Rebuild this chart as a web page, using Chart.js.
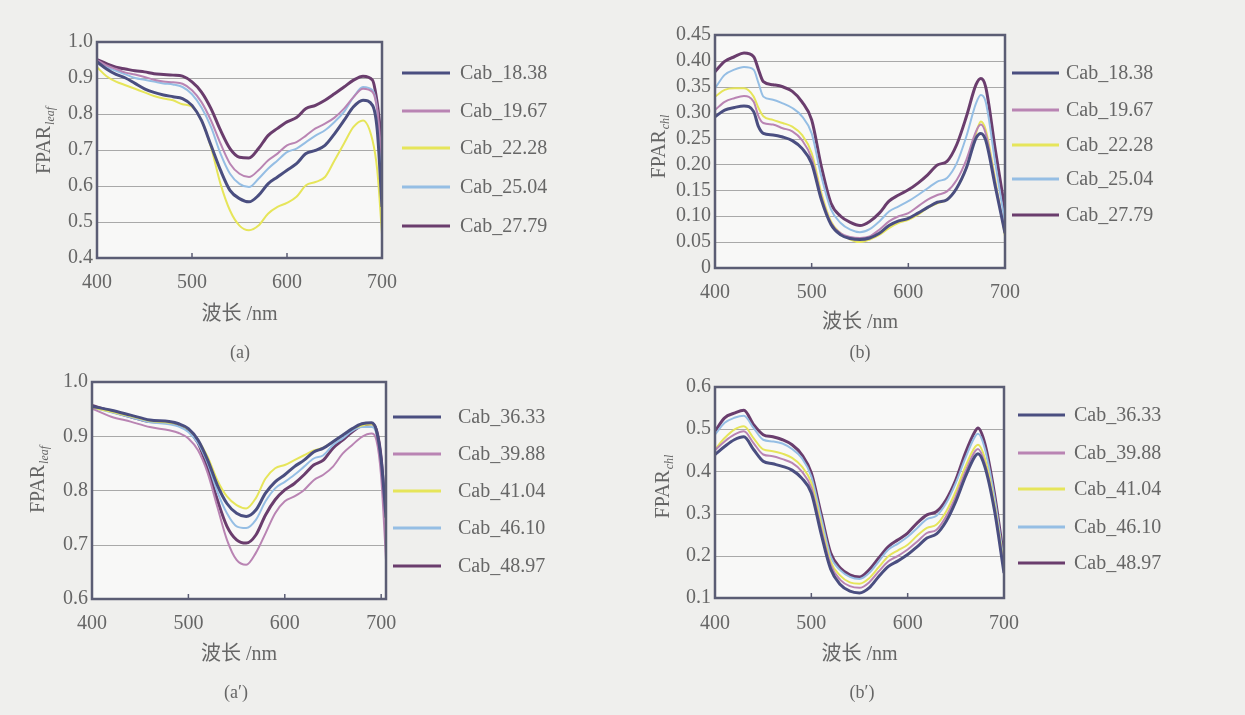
<!DOCTYPE html>
<html>
<head>
<meta charset="utf-8">
<script src="https://cdn.jsdelivr.net/npm/chart.js@4.4.1/dist/chart.umd.min.js"></script>
<style>
  body { margin: 0; width: 1245px; height: 715px; overflow: hidden; position: relative;
         background: #efefed; font-family: "Liberation Serif", serif; }
  canvas { position: absolute; }
  .tag { position: absolute; font-size: 18px; color: #666; transform: translateX(-50%); }
</style>
</head>
<body>
<canvas id="panelA" width="600" height="340" style="left:0;top:0"></canvas>
<canvas id="panelB" width="645" height="340" style="left:600px;top:0"></canvas>
<canvas id="panelA2" width="600" height="320" style="left:0;top:360px"></canvas>
<canvas id="panelB2" width="645" height="320" style="left:600px;top:360px"></canvas>
<div class="tag" style="left:240px;top:342px">(a)</div>
<div class="tag" style="left:860px;top:342px">(b)</div>
<div class="tag" style="left:236px;top:682px">(a′)</div>
<div class="tag" style="left:862px;top:682px">(b′)</div>
<script>
// ---- data ----
const namesLow = ['Cab_18.38', 'Cab_19.67', 'Cab_22.28', 'Cab_25.04', 'Cab_27.79'];
const namesHigh = ['Cab_36.33', 'Cab_39.88', 'Cab_41.04', 'Cab_46.10', 'Cab_48.97'];

const xTicks = [400, 500, 600, 700];
const yTicksA = [0.4, 0.5, 0.6, 0.7, 0.8, 0.9, 1.0];
const yTicksB = [0, 0.05, 0.10, 0.15, 0.20, 0.25, 0.30, 0.35, 0.40, 0.45];
const yTicksA2 = [0.6, 0.7, 0.8, 0.9, 1.0];
const yTicksB2 = [0.1, 0.2, 0.3, 0.4, 0.5, 0.6];

// (a) FPAR_leaf, low chlorophyll
const wlA = [400,410,420,430,440,450,460,470,480,490,500,510,520,530,540,550,560,570,580,590,600,610,620,630,640,650,660,670,680,690,695,700];
const leafA_1838 = [0.945,0.925,0.91,0.9,0.885,0.87,0.86,0.853,0.848,0.843,0.824,0.782,0.713,0.644,0.588,0.565,0.556,0.574,0.606,0.625,0.644,0.662,0.69,0.699,0.713,0.745,0.782,0.82,0.838,0.824,0.755,0.542];
const leafA_1967 = [0.95,0.935,0.925,0.915,0.91,0.903,0.895,0.89,0.888,0.884,0.866,0.833,0.782,0.718,0.662,0.634,0.625,0.644,0.671,0.69,0.713,0.722,0.74,0.76,0.773,0.79,0.815,0.847,0.87,0.861,0.81,0.67];
const leafA_2228 = [0.93,0.905,0.89,0.88,0.87,0.86,0.85,0.843,0.838,0.827,0.82,0.782,0.708,0.606,0.532,0.49,0.477,0.49,0.523,0.542,0.553,0.57,0.602,0.611,0.625,0.671,0.718,0.764,0.782,0.727,0.644,0.467];
const leafA_2504 = [0.945,0.93,0.92,0.91,0.9,0.895,0.89,0.885,0.882,0.875,0.855,0.818,0.764,0.69,0.634,0.606,0.597,0.62,0.648,0.671,0.694,0.704,0.722,0.74,0.755,0.778,0.806,0.847,0.875,0.866,0.81,0.6];
const leafA_2779 = [0.951,0.94,0.93,0.925,0.92,0.917,0.912,0.91,0.908,0.905,0.889,0.861,0.815,0.755,0.704,0.68,0.678,0.704,0.74,0.76,0.778,0.79,0.815,0.824,0.838,0.856,0.875,0.894,0.905,0.894,0.83,0.713];

// (b) FPAR_chl, low chlorophyll
const wlB = [400,410,420,430,440,445,450,460,470,480,490,500,510,520,530,540,550,560,570,580,590,600,610,620,630,640,650,660,670,675,680,690,700];
const chlB_1838 = [0.292,0.305,0.31,0.313,0.302,0.273,0.26,0.257,0.253,0.246,0.231,0.202,0.132,0.084,0.064,0.057,0.055,0.058,0.067,0.082,0.091,0.096,0.106,0.117,0.127,0.132,0.154,0.193,0.251,0.26,0.247,0.157,0.067];
const chlB_1967 = [0.305,0.321,0.328,0.332,0.321,0.293,0.28,0.277,0.27,0.264,0.247,0.212,0.138,0.087,0.067,0.06,0.058,0.061,0.074,0.09,0.1,0.106,0.119,0.132,0.141,0.148,0.17,0.209,0.264,0.277,0.26,0.164,0.067];
const chlB_2228 = [0.331,0.344,0.347,0.347,0.331,0.309,0.293,0.286,0.28,0.273,0.257,0.222,0.145,0.09,0.067,0.055,0.05,0.055,0.064,0.077,0.087,0.093,0.103,0.116,0.125,0.132,0.154,0.193,0.26,0.283,0.267,0.17,0.061];
const chlB_2504 = [0.347,0.373,0.383,0.388,0.383,0.357,0.331,0.325,0.318,0.309,0.293,0.26,0.177,0.113,0.087,0.074,0.069,0.075,0.09,0.109,0.119,0.129,0.141,0.154,0.167,0.174,0.202,0.254,0.318,0.334,0.321,0.202,0.087];
const chlB_2779 = [0.379,0.399,0.408,0.415,0.408,0.383,0.36,0.354,0.35,0.341,0.321,0.286,0.196,0.125,0.1,0.088,0.082,0.09,0.106,0.129,0.141,0.151,0.164,0.18,0.199,0.206,0.238,0.292,0.354,0.366,0.35,0.228,0.112];

// (a') FPAR_leaf, high chlorophyll
const wlA2 = [400,420,440,460,480,490,500,510,520,530,540,550,560,570,580,590,600,610,620,630,640,650,660,670,680,690,695,700,705];
const leafA2_3633 = [0.955,0.948,0.939,0.93,0.927,0.923,0.914,0.893,0.856,0.81,0.776,0.758,0.752,0.764,0.795,0.816,0.829,0.844,0.856,0.871,0.878,0.89,0.902,0.914,0.923,0.925,0.911,0.856,0.75];
const leafA2_3988 = [0.951,0.936,0.927,0.917,0.911,0.906,0.896,0.874,0.832,0.77,0.709,0.672,0.663,0.685,0.721,0.758,0.78,0.789,0.801,0.819,0.829,0.844,0.868,0.884,0.899,0.905,0.893,0.825,0.672];
const leafA2_4104 = [0.953,0.945,0.937,0.928,0.925,0.922,0.913,0.893,0.862,0.819,0.789,0.773,0.767,0.786,0.822,0.841,0.847,0.856,0.865,0.874,0.879,0.89,0.902,0.914,0.92,0.922,0.91,0.85,0.74];
const leafA2_4610 = [0.953,0.944,0.935,0.926,0.922,0.918,0.908,0.887,0.85,0.798,0.758,0.734,0.731,0.746,0.78,0.804,0.816,0.829,0.844,0.859,0.865,0.884,0.896,0.91,0.917,0.917,0.905,0.84,0.73];
const leafA2_4897 = [0.957,0.946,0.936,0.927,0.925,0.921,0.911,0.888,0.841,0.783,0.734,0.709,0.703,0.718,0.755,0.783,0.801,0.813,0.829,0.847,0.856,0.878,0.893,0.908,0.92,0.923,0.912,0.86,0.74];

// (b') FPAR_chl, high chlorophyll
const wlB2 = [400,410,420,430,440,450,460,470,480,490,500,510,520,530,540,550,560,570,580,590,600,610,620,630,640,650,660,670,673,680,690,700];
const chlB2_3633 = [0.44,0.459,0.475,0.482,0.452,0.424,0.418,0.412,0.403,0.384,0.349,0.254,0.169,0.132,0.116,0.112,0.124,0.151,0.175,0.188,0.203,0.222,0.242,0.252,0.282,0.329,0.388,0.436,0.442,0.412,0.309,0.159];
const chlB2_3988 = [0.45,0.471,0.487,0.495,0.467,0.44,0.436,0.429,0.42,0.4,0.361,0.266,0.179,0.143,0.128,0.124,0.137,0.163,0.187,0.2,0.215,0.234,0.254,0.262,0.294,0.341,0.4,0.448,0.453,0.42,0.317,0.167];
const chlB2_4104 = [0.452,0.479,0.499,0.507,0.479,0.452,0.448,0.442,0.432,0.412,0.373,0.278,0.187,0.153,0.137,0.134,0.147,0.173,0.199,0.213,0.226,0.248,0.266,0.274,0.305,0.353,0.412,0.458,0.463,0.432,0.325,0.175];
const chlB2_4610 = [0.487,0.515,0.527,0.532,0.503,0.475,0.471,0.466,0.453,0.432,0.388,0.293,0.199,0.166,0.15,0.145,0.159,0.187,0.215,0.229,0.245,0.266,0.287,0.295,0.325,0.373,0.432,0.483,0.489,0.455,0.341,0.183];
const chlB2_4897 = [0.495,0.527,0.538,0.545,0.511,0.487,0.482,0.475,0.463,0.44,0.396,0.301,0.207,0.171,0.155,0.15,0.167,0.195,0.222,0.238,0.254,0.278,0.297,0.305,0.333,0.38,0.444,0.495,0.503,0.467,0.349,0.191];

// ---- style ----
const lineColors = ['#4a4e80', '#b984b3', '#e6e55a', '#95bee4', '#6a3d6d'];
const lineWidths = [3, 2, 2, 2, 3];
const textColor = '#666';
const serif = '"Liberation Serif", "Noto Sans CJK SC", serif';

// background of the plot area, frame and small inner ticks on the x axis
const framePlugin = {
    id: 'frame',
    beforeDatasetsDraw(chart) {
        const a = chart.chartArea, ctx = chart.ctx;
        ctx.save();
        ctx.fillStyle = 'rgba(255,255,255,0.55)';
        ctx.fillRect(a.left, a.top, a.right - a.left, a.bottom - a.top);
        // horizontal grid lines
        const y = chart.scales.y;
        ctx.strokeStyle = '#a9a9a9';
        ctx.lineWidth = 1.2;
        y.ticks.forEach(t => {
            const py = Math.round(y.getPixelForValue(t.value)) + 0.5;
            ctx.beginPath(); ctx.moveTo(a.left, py); ctx.lineTo(a.right, py); ctx.stroke();
        });
        ctx.restore();
    },
    afterDatasetsDraw(chart) {
        const a = chart.chartArea, ctx = chart.ctx, x = chart.scales.x;
        ctx.save();
        ctx.strokeStyle = '#5b5d74';
        ctx.lineWidth = 2.5;
        ctx.strokeRect(a.left, a.top, a.right - a.left, a.bottom - a.top);
        ctx.lineWidth = 1.5;
        x.ticks.forEach(t => {
            const px = x.getPixelForValue(t.value);
            if (px <= a.left + 2 || px >= a.right - 2) return;
            ctx.beginPath(); ctx.moveTo(px, a.bottom); ctx.lineTo(px, a.bottom - 5); ctx.stroke();
        });
        ctx.restore();
    },
    afterDraw(chart) {
        const o = chart.options.plugins.frame, ctx = chart.ctx;
        ctx.save();
        // y axis title with subscript
        ctx.translate(o.titleX, o.titleY);
        ctx.rotate(-Math.PI / 2);
        ctx.fillStyle = textColor;
        ctx.font = '20px ' + serif;
        const w1 = ctx.measureText('FPAR').width;
        ctx.font = 'italic 12px ' + serif;
        const w2 = ctx.measureText(o.sub).width;
        const start = -(w1 + w2) / 2;
        ctx.font = '20px ' + serif;
        ctx.fillText('FPAR', start, 7);
        ctx.font = 'italic 12px ' + serif;
        ctx.fillText(o.sub, start + w1 + 1, 11);
        ctx.restore();

        // legend
        ctx.save();
        ctx.font = '20px ' + serif;
        ctx.textBaseline = 'middle';
        chart.data.datasets.forEach((ds, i) => {
            const ry = o.legend.rows[i];
            ctx.strokeStyle = ds.borderColor;
            ctx.lineWidth = 3;
            ctx.beginPath(); ctx.moveTo(o.legend.x1, ry); ctx.lineTo(o.legend.x2, ry); ctx.stroke();
            ctx.fillStyle = textColor;
            ctx.fillText(ds.label, o.legend.tx, ry + 1);
        });
        ctx.restore();
    }
};

function makePanel(id, p) {
    // p.box = canvas in page coords, p.plot = wanted chart area in page coords
    const box = p.box, plot = p.plot;
    const datasets = p.series.map((s, i) => ({
        label: p.names[i],
        data: p.wl.map((w, j) => ({ x: w, y: s[j] })),
        borderColor: lineColors[i],
        borderWidth: lineWidths[i],
        pointRadius: 0,
        cubicInterpolationMode: 'monotone',
        fill: false
    }));
    return new Chart(document.getElementById(id), {
        type: 'line',
        data: { datasets },
        plugins: [framePlugin],
        options: {
            responsive: false,
            animation: false,
            layout: { padding: { top: plot.t - box.y, right: box.x + box.w - plot.r, left: 0, bottom: 0 } },
            plugins: {
                legend: { display: false },
                tooltip: { enabled: false },
                frame: {
                    sub: p.sub,
                    titleX: p.title[0] - box.x,
                    titleY: p.title[1] - box.y,
                    legend: {
                        x1: p.legend.x1 - box.x, x2: p.legend.x2 - box.x, tx: p.legend.tx - box.x,
                        rows: p.legend.rows.map(r => r - box.y)
                    }
                }
            },
            scales: {
                x: {
                    type: 'linear',
                    min: 400, max: p.xMax,
                    afterBuildTicks: s => { s.ticks = xTicks.map(v => ({ value: v })); },
                    afterFit: s => { s.height = box.y + box.h - plot.b; },
                    grid: { display: false, drawTicks: false },
                    border: { display: false },
                    ticks: { color: textColor, font: { family: serif, size: 20 }, padding: p.tickPad,
                             maxRotation: 0, autoSkip: false, callback: v => String(v) },
                    title: { display: true, text: '波长 /nm', color: textColor,
                             font: { family: serif, size: 20, lineHeight: 1.2 },
                             padding: { top: 0, bottom: p.titlePad } }
                },
                y: {
                    type: 'linear',
                    min: p.yTicks[0], max: p.yTicks[p.yTicks.length - 1],
                    afterBuildTicks: s => { s.ticks = p.yTicks.map(v => ({ value: v })); },
                    afterFit: s => { s.width = plot.l - box.x; },
                    grid: { display: false, drawTicks: false },
                    border: { display: false },
                    ticks: { color: textColor, font: { family: serif, size: 20 }, padding: 4,
                             autoSkip: false, callback: p.fmt }
                }
            }
        }
    });
}

makePanel('panelA', {
    box: { x: 0, y: 0, w: 600, h: 340 }, plot: { l: 97, t: 42, r: 382, b: 258 },
    wl: wlA, series: [leafA_1838, leafA_1967, leafA_2228, leafA_2504, leafA_2779], names: namesLow,
    xMax: 700, yTicks: yTicksA, fmt: v => v.toFixed(1), sub: 'leaf',
    tickPad: 13, titlePad: 13, title: [43, 141],
    legend: { x1: 402, x2: 450, tx: 460, rows: [73, 111, 148, 187, 226] }
});
makePanel('panelB', {
    box: { x: 600, y: 0, w: 645, h: 340 }, plot: { l: 715, t: 35, r: 1005, b: 268 },
    wl: wlB, series: [chlB_1838, chlB_1967, chlB_2228, chlB_2504, chlB_2779], names: namesLow,
    xMax: 700, yTicks: yTicksB, fmt: v => v === 0 ? '0' : v.toFixed(2), sub: 'chl',
    tickPad: 13, titlePad: 5, title: [658, 147],
    legend: { x1: 1012, x2: 1059, tx: 1066, rows: [73, 110, 145, 179, 215] }
});
makePanel('panelA2', {
    box: { x: 0, y: 360, w: 600, h: 320 }, plot: { l: 92, t: 382, r: 386, b: 599 },
    wl: wlA2, series: [leafA2_3633, leafA2_3988, leafA2_4104, leafA2_4610, leafA2_4897], names: namesHigh,
    xMax: 705, yTicks: yTicksA2, fmt: v => v.toFixed(1), sub: 'leaf',
    tickPad: 13, titlePad: 13, title: [37, 480],
    legend: { x1: 393, x2: 441, tx: 458, rows: [417, 454, 491, 528, 566] }
});
makePanel('panelB2', {
    box: { x: 600, y: 360, w: 645, h: 320 }, plot: { l: 715, t: 387, r: 1004, b: 598 },
    wl: wlB2, series: [chlB2_3633, chlB2_3988, chlB2_4104, chlB2_4610, chlB2_4897], names: namesHigh,
    xMax: 700, yTicks: yTicksB2, fmt: v => v.toFixed(1), sub: 'chl',
    tickPad: 14, titlePad: 13, title: [662, 487],
    legend: { x1: 1018, x2: 1065, tx: 1074, rows: [415, 453, 489, 527, 563] }
});
</script>
</body>
</html>
